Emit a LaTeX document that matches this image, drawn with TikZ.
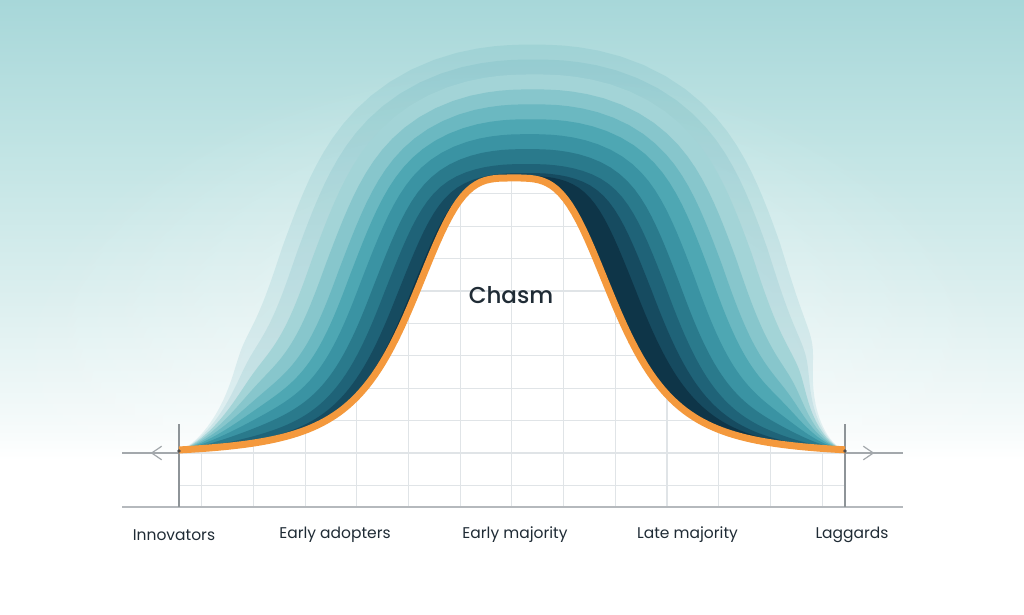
\documentclass[tikz,border=0pt]{standalone}
\usepackage{fontspec}
\setmainfont{Poppins}
\newfontfamily\chasmfont{Poppins Medium}
\usetikzlibrary{fadings}
\definecolor{bg1}{HTML}{F4FAFA}
\definecolor{bg2}{HTML}{DCEFEF}
\definecolor{bg3}{HTML}{C1E4E4}
\definecolor{bg4}{HTML}{A7D7D9}
\definecolor{orangec}{HTML}{F4993D}
\definecolor{textdark}{HTML}{1F2B35}
\definecolor{gridc}{HTML}{E0E4E7}
\definecolor{axisc}{HTML}{A3A8AC}
\definecolor{vlinec}{HTML}{8E9498}
\definecolor{bandout}{HTML}{3A9AA8}
\definecolor{b1}{HTML}{0E3548}
\definecolor{b2}{HTML}{164B60}
\definecolor{b3}{HTML}{1F6378}
\definecolor{b4}{HTML}{2A7A8C}
\definecolor{b5}{HTML}{3A93A3}
\definecolor{b6}{HTML}{4EA7B3}
\definecolor{b7}{HTML}{6BB8C1}
\definecolor{b8}{HTML}{87C6CC}
\definecolor{b9}{HTML}{A3D4D7}
\pgfdeclareverticalshading{bgv}{100bp}{color(0bp)=(white); color(37.5bp)=(white); color(40.8bp)=(bg1); color(50.6bp)=(bg2); color(62.8bp)=(bg3); color(75bp)=(bg4); color(100bp)=(bg4)}
\tikzfading[name=glowfade, inner color=transparent!0, outer color=transparent!100]
\begin{document}
\begin{tikzpicture}[x=1pt,y=-1pt,
  gridline/.style={draw=gridc, line width=1.1pt},
  axisline/.style={draw=axisc, line width=1.3pt},
  vline/.style={draw=vlinec, line width=1.3pt},
  chev/.style={draw=axisc, line width=1.2pt, line join=miter},
  label/.style={text=textdark, font=\fontsize{15.5}{18}\selectfont, inner sep=0pt, anchor=center}
]
\useasboundingbox (0,0) rectangle (1024,614);
% precompute the bell curve, band offset directions and an end taper
\foreach \i in {0,...,150} {
  \pgfmathsetmacro\cT{179+\i*4.44}
  \pgfmathsetmacro\cU{(\cT-513)/107}
  \pgfmathsetmacro\cA{max(abs(\cU),0.0001)}
  \pgfmathsetmacro\cP{\cA*\cA*\cA*sqrt(\cA)}
  \pgfmathsetmacro\cF{1/(1+\cP)}
  \pgfmathsetmacro\cY{450-277*(\cF-0.018)}
  \pgfmathsetmacro\cS{\cF*\cF*(\cP/\cA)*9.06}
  \pgfmathsetmacro\cL{5+62.3*max((\cT-179)/234.5,0)}
  \pgfmathsetmacro\cM{5+62.3*max((845-\cT)/234.5,0)}
  \pgfmathsetmacro\cD{(\cT<413.5) ? \cL : ((\cT>612.5) ? \cM : atan(\cS))}
  \pgfmathsetmacro\cX{(\cT<513 ? -1 : 1)*sin(\cD)}
  \pgfmathsetmacro\cV{cos(\cD)}
  \pgfmathsetmacro\cE{max((\cT-179)/100,0)}
  \pgfmathsetmacro\cG{max((845-\cT)/100,0)}
  \pgfmathsetmacro\cR{(1-exp(-min(\cE*sqrt(\cE),8)))*(1-exp(-min(\cG*sqrt(\cG),8)))}
  \expandafter\xdef\csname bT\i\endcsname{\cT}
  \expandafter\xdef\csname bY\i\endcsname{\cY}
  \expandafter\xdef\csname bX\i\endcsname{\cX}
  \expandafter\xdef\csname bN\i\endcsname{\cV}
  \expandafter\xdef\csname bR\i\endcsname{\cR}
}
% background
\shade[shading=bgv] (0,0) rectangle (1024,614);
\fill[white, opacity=0.6, path fading=glowfade] (512,420) ellipse [x radius=520, y radius=360];
% bands (outermost first)
\foreach \px/\py/\ps in {168/134/19.5, 153/119/20.5}
  \fill[bandout, fill opacity=0.12] (179,450) \foreach \i in {1,...,150} { -- ({\csname bT\i\endcsname+(\px*\csname bX\i\endcsname+\ps)*\csname bR\i\endcsname},{\csname bY\i\endcsname-\py*\csname bN\i\endcsname*\csname bR\i\endcsname}) } -- cycle;
\foreach \px/\py/\ps/\col in {135.7/104/20.5/b9, 119.6/89/19.5/b8, 104.3/74/19/b7, 91.1/59/18/b6, 76.4/44/16/b5, 61.2/29/14.5/b4, 47.7/14/13.5/b3, 33/5/12.5/b2, 17.5/2/11/b1}
  \fill[\col] (179,450) \foreach \i in {1,...,150} { -- ({\csname bT\i\endcsname+(\px*\csname bX\i\endcsname+\ps)*\csname bR\i\endcsname},{\csname bY\i\endcsname-\py*\csname bN\i\endcsname*\csname bR\i\endcsname}) } -- cycle;
% white area under curve
\fill[white] (179,450) \foreach \i in {1,...,150} { -- (\csname bT\i\endcsname,\csname bY\i\endcsname) } -- (845,507) -- (179,507) -- cycle;
% grid
\begin{scope}
  \clip (179,450) \foreach \i in {1,...,150} { -- (\csname bT\i\endcsname,\csname bY\i\endcsname) } -- (845,507) -- (179,507) -- cycle;
  \foreach \i in {0,...,12} \draw[gridline] ({201.7+51.7*\i},150) -- ({201.7+51.7*\i},507);
  \foreach \j in {-1,...,9} \draw[gridline] (179,{453-32.4*\j}) -- (845,{453-32.4*\j});
\end{scope}
% axes
\draw[axisline] (122,453) -- (179,453);
\draw[axisline] (845,453) -- (903,453);
\draw[draw=axisc!80, line width=1.6pt] (122,507) -- (903,507);
\draw[vline] (179,424) -- (179,507);
\draw[vline] (845,424) -- (845,507);
\draw[chev] (161.7,446.2) -- (151.7,453) -- (161.7,459.8);
\draw[chev] (863.3,446.2) -- (873.3,453) -- (863.3,459.8);
% orange curve
\draw[orangec, line width=7pt, line join=round] (179,450) \foreach \i in {1,...,150} { -- (\csname bT\i\endcsname,\csname bY\i\endcsname) };
\fill[black!70] (179,451) circle (1.8);
\fill[black!70] (845,451) circle (1.8);
% labels
\node[label] (innov) at (174,535) {Innovators};
\node[label] (early) at (335,535) {Early adopters};
\node[label] (emaj) at (515,535) {Early majority};
\node[label] (lmaj) at (687.5,535) {Late majority};
\node[label] (lagg) at (852,535) {Laggards};
\node[text=textdark, font=\chasmfont\fontsize{23}{26}\selectfont, inner sep=0pt] (chasm) at (511,295) {Chasm};
\end{tikzpicture}
\end{document}
